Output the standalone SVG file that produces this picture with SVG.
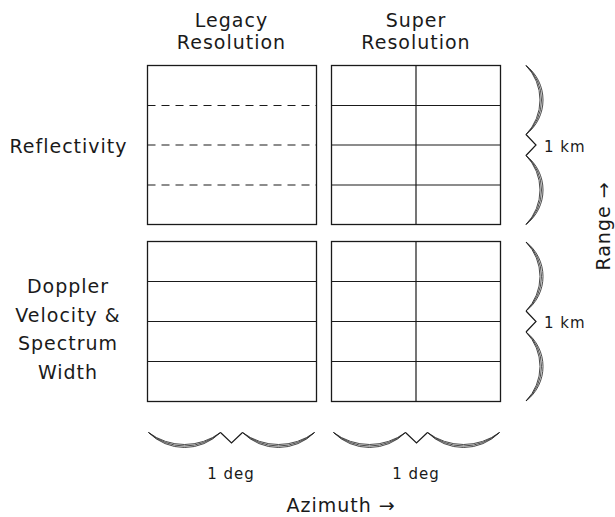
<svg xmlns="http://www.w3.org/2000/svg" width="615" height="517" viewBox="0 0 615 517">
<style>
  .box{fill:#fff;stroke:#1a1a1a;stroke-width:1.3}
  .ln{stroke:#1a1a1a;stroke-width:1.2;fill:none}
  .dash{stroke:#1a1a1a;stroke-width:1.2;stroke-dasharray:8 6;fill:none}
  .br{stroke:#1a1a1a;stroke-width:0.8;fill:none}
  .t{font-family:"DejaVu Sans","Liberation Sans",sans-serif;font-size:19px;fill:#1a1a1a;letter-spacing:1px;text-anchor:middle}
  .s{font-family:"DejaVu Sans","Liberation Sans",sans-serif;font-size:15px;fill:#1a1a1a;letter-spacing:1px}
</style>
<rect width="615" height="517" fill="#fff"/>

<g id="title-legacy">
  <text class="t" x="231.5" y="27">Legacy</text>
  <text class="t" x="231.5" y="49">Resolution</text>
</g>
<g id="title-super">
  <text class="t" x="416" y="27">Super</text>
  <text class="t" x="416" y="49">Resolution</text>
</g>
<g id="label-reflectivity">
  <text class="t" x="68.5" y="153">Reflectivity</text>
</g>
<g id="label-doppler">
  <text class="t" x="68" y="293">Doppler</text>
  <text class="t" x="68" y="321.5">Velocity &amp;</text>
  <text class="t" x="68" y="350">Spectrum</text>
  <text class="t" x="68" y="378.5">Width</text>
</g>

<g id="refl-legacy">
  <rect class="box" x="147.5" y="65.5" width="169" height="159"/>
  <line class="dash" x1="147.5" y1="105.5" x2="316.5" y2="105.5"/>
  <line class="dash" x1="147.5" y1="145" x2="316.5" y2="145"/>
  <line class="dash" x1="147.5" y1="185" x2="316.5" y2="185"/>
</g>
<g id="refl-super">
  <rect class="box" x="331.5" y="65.5" width="169" height="159"/>
  <line class="ln" x1="331.5" y1="105.5" x2="500.5" y2="105.5"/>
  <line class="ln" x1="331.5" y1="145" x2="500.5" y2="145"/>
  <line class="ln" x1="331.5" y1="185" x2="500.5" y2="185"/>
  <line class="ln" x1="416" y1="65.5" x2="416" y2="224.5"/>
</g>
<g id="dopp-legacy">
  <rect class="box" x="147.5" y="241.5" width="169" height="160"/>
  <line class="ln" x1="147.5" y1="281.5" x2="316.5" y2="281.5"/>
  <line class="ln" x1="147.5" y1="321.5" x2="316.5" y2="321.5"/>
  <line class="ln" x1="147.5" y1="361.5" x2="316.5" y2="361.5"/>
</g>
<g id="dopp-super">
  <rect class="box" x="331.5" y="241.5" width="169" height="160"/>
  <line class="ln" x1="331.5" y1="281.5" x2="500.5" y2="281.5"/>
  <line class="ln" x1="331.5" y1="321.5" x2="500.5" y2="321.5"/>
  <line class="ln" x1="331.5" y1="361.5" x2="500.5" y2="361.5"/>
  <line class="ln" x1="416" y1="241.5" x2="416" y2="401.5"/>
</g>

<g id="braces">
  <!-- horizontal brace 1 -->
  <g id="brace-h1">
    <path class="br" d="M148.5,432.5 A50.7,50.7 0 0 0 220.5,432.5 M148.5,432.5 A54.75,54.75 0 0 0 220.5,432.5 M148.5,432.5 A60,60 0 0 0 220.5,432.5"/>
    <path class="br" d="M242.5,432.5 A50.7,50.7 0 0 0 314.5,432.5 M242.5,432.5 A54.75,54.75 0 0 0 314.5,432.5 M242.5,432.5 A60,60 0 0 0 314.5,432.5"/>
    <path class="ln" d="M220.5,432.5 L231.5,443 L242.5,432.5"/>
  </g>
  <g id="brace-h2">
    <path class="br" d="M333.5,432.5 A50.7,50.7 0 0 0 405.5,432.5 M333.5,432.5 A54.75,54.75 0 0 0 405.5,432.5 M333.5,432.5 A60,60 0 0 0 405.5,432.5"/>
    <path class="br" d="M427.5,432.5 A50.7,50.7 0 0 0 499.5,432.5 M427.5,432.5 A54.75,54.75 0 0 0 499.5,432.5 M427.5,432.5 A60,60 0 0 0 499.5,432.5"/>
    <path class="ln" d="M405.5,432.5 L416.5,443 L427.5,432.5"/>
  </g>
  <g id="brace-v1">
    <path class="br" d="M526,65.5 A43.5,43.5 0 0 1 526,134.5 M526,65.5 A46.15,46.15 0 0 1 526,134.5 M526,65.5 A49.5,49.5 0 0 1 526,134.5"/>
    <path class="br" d="M526,155.5 A43.5,43.5 0 0 1 526,224.5 M526,155.5 A46.15,46.15 0 0 1 526,224.5 M526,155.5 A49.5,49.5 0 0 1 526,224.5"/>
    <path class="ln" d="M526,134.5 L536,145 L526,155.5"/>
  </g>
  <g id="brace-v2">
    <path class="br" d="M526,242 A43.5,43.5 0 0 1 526,311 M526,242 A46.15,46.15 0 0 1 526,311 M526,242 A49.5,49.5 0 0 1 526,311"/>
    <path class="br" d="M526,332 A43.5,43.5 0 0 1 526,401 M526,332 A46.15,46.15 0 0 1 526,401 M526,332 A49.5,49.5 0 0 1 526,401"/>
    <path class="ln" d="M526,311 L536,321.5 L526,332"/>
  </g>
</g>

<g id="scale-labels">
  <text class="s" x="544" y="152">1 km</text>
  <text class="s" x="544" y="328">1 km</text>
  <text class="s" x="231" y="478.5" text-anchor="middle">1 deg</text>
  <text class="s" x="416" y="478.5" text-anchor="middle">1 deg</text>
</g>

<g id="axis-labels">
  <text class="t" x="286.5" y="511.5" style="text-anchor:start">Azimuth →</text>
  <text class="t" x="610" y="226" transform="rotate(-90 610 226)">Range →</text>
</g>
</svg>
